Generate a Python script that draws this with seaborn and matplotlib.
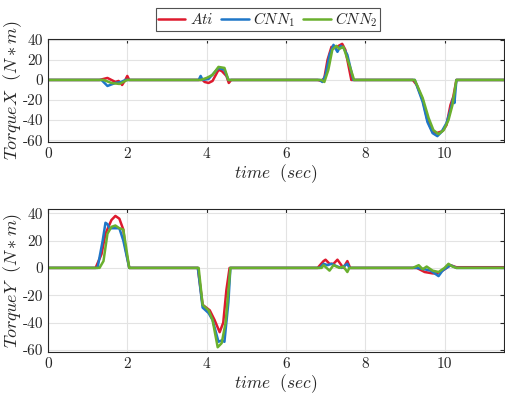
import numpy as np
import pandas as pd
import seaborn as sns
import matplotlib.pyplot as plt
from matplotlib.ticker import FuncFormatter
from matplotlib.lines import Line2D

# ---- data (time in sec, torque in N*m) ----
tx_ati_t = [0, 1.3, 1.5, 1.7, 1.78, 1.87, 1.95, 2.0, 2.05, 3.9, 3.95, 4.05, 4.15, 4.3, 4.38, 4.5, 4.56, 4.62,
            6.8, 6.9, 6.97, 7.05, 7.15, 7.25, 7.33, 7.42, 7.5, 7.6, 7.65, 9.2, 9.3, 9.45, 9.57, 9.7, 9.8, 9.95, 10.05,
            10.15, 10.22, 10.3, 11.5]
tx_ati = [0, 0, 2, -2, -1, -5, 0, 4, 0, 0, -2, -3, -1, 10, 9, 4, -3, 0,
          0, -1, 2, 20, 33, 32, 34, 36, 30, 10, 0, 0, -5, -20, -40, -52, -53, -51, -45,
          -25, -17, 0, 0]
tx_cnn1_t = [0, 1.35, 1.5, 1.7, 1.85, 1.95, 3.8, 3.85, 3.9, 4.05, 4.3, 4.45, 4.55,
             6.85, 6.92, 7.0, 7.1, 7.2, 7.3, 7.38, 7.45, 7.55, 7.7, 9.25, 9.45, 9.57, 9.7, 9.82, 9.92, 10.05,
             10.15, 10.22, 10.25, 10.3, 11.5]
tx_cnn1 = [0, 0, -6, -3, -2, 0, 0, 4, 0, 1, 12, 10, 0,
           0, -2, 5, 25, 35, 28, 34, 32, 25, 0, 0, -22, -42, -53, -56, -52, -43,
           -30, -18, -23, 0, 0]
tx_cnn2_t = [0, 1.4, 1.6, 1.8, 1.9, 2.0, 3.85, 4.0, 4.15, 4.3, 4.45, 4.55,
             6.9, 6.97, 7.07, 7.17, 7.27, 7.35, 7.45, 7.6, 7.72, 9.25, 9.45, 9.6, 9.72, 9.85, 9.98, 10.1,
             10.2, 10.3, 11.5]
tx_cnn2 = [0, 0, -3, -4, -2, 0, 0, 2, 5, 13, 12, 0,
           0, -2, 10, 30, 34, 31, 33, 15, 0, 0, -18, -38, -50, -54, -50, -40,
           -25, 0, 0]

ty_ati_t = [0, 1.2, 1.35, 1.45, 1.6, 1.7, 1.8, 1.9, 1.95, 2.05, 3.78, 3.9, 4.08, 4.2, 4.33, 4.42, 4.5, 4.58,
            6.8, 6.95, 7.0, 7.1, 7.2, 7.3, 7.4, 7.45, 7.55, 7.62, 9.3, 9.5, 9.7, 9.8, 9.95, 10.15, 10.3, 11.5]
ty_ati = [0, 0, 10, 25, 35, 38, 36, 28, 15, 0, 0, -27, -31, -38, -47, -40, -16, 0,
          0, 5, 6, 3, 3, 6, 2, 0, 5, 0, 0, -3, -4, -4, -2, 2, 0.5, 0.5]
ty_cnn1_t = [0, 1.25, 1.38, 1.45, 1.5, 1.55, 1.8, 1.9, 2.05, 3.78, 3.9, 4.05, 4.15, 4.3, 4.38, 4.45, 4.55, 4.6,
             6.85, 6.95, 7.05, 7.15, 7.3, 7.4, 7.55, 7.6, 9.3, 9.5, 9.65, 9.85, 9.95, 10.15, 10.3, 11.5]
ty_cnn1 = [0, 0, 20, 33, 32, 29, 29, 20, 0, 0, -29, -33, -38, -54, -53, -54, -25, 0,
           0, 3, 2, 3, 1, 0, 3, 0, 0, -1, -2, -6, -2, 2, 0, 0]
ty_cnn2_t = [0, 1.3, 1.4, 1.5, 1.6, 1.7, 1.8, 1.9, 1.97, 2.05, 3.8, 3.9, 4.05, 4.15, 4.28, 4.38, 4.48, 4.6,
             6.9, 6.95, 7.1, 7.2, 7.35, 7.45, 7.55, 7.6, 9.2, 9.35, 9.45, 9.55, 9.7, 9.85, 10.0, 10.1, 10.2, 10.3, 11.5]
ty_cnn2 = [0, 0, 5, 25, 30, 31, 29, 28, 15, 0, 0, -27, -31, -38, -58, -55, -40, 0,
           0, 2, -2, 2, 0, 1, -3, 0, 0, 2, -1, 1, -2, -3, 0, 3, 1, 0, 0]

names = ['$Ati$', '$CNN_1$', '$CNN_2$']
colors = ['#DE1A2E', '#1F77C8', '#6AB02E']

sns.set_style('white')
plt.rcParams['mathtext.fontset'] = 'cm'
plt.rcParams['font.family'] = ['cmr10', 'DejaVu Serif']
plt.rcParams['axes.formatter.use_mathtext'] = True

fig = plt.figure(figsize=(5.05, 3.96), dpi=100)
ax1 = fig.add_axes([0.095, 0.641, 0.903, 0.261])
ax2 = fig.add_axes([0.095, 0.111, 0.903, 0.361])

top = [(tx_ati_t, tx_ati), (tx_cnn1_t, tx_cnn1), (tx_cnn2_t, tx_cnn2)]
bot = [(ty_ati_t, ty_ati), (ty_cnn1_t, ty_cnn1), (ty_cnn2_t, ty_cnn2)]

fmt = FuncFormatter(lambda v, p: '%g' % v)

for ax, series, ylab, ylim in [(ax1, top, r'$TorqueX\ \ (N \ast m)$', (-62, 41)),
                               (ax2, bot, r'$TorqueY\ \ (N \ast m)$', (-61.5, 43))]:
    for (t, v), c in zip(series, colors):
        sns.lineplot(x=t, y=v, color=c, lw=1.8, ax=ax, estimator=None, sort=False)
    ax.set_xlim(0, 11.5)
    ax.set_ylim(*ylim)
    ax.set_xticks([0, 2, 4, 6, 8, 10])
    ax.set_yticks([-60, -40, -20, 0, 20, 40])
    ax.xaxis.set_major_formatter(fmt)
    ax.yaxis.set_major_formatter(fmt)
    ax.grid(True, color='#E3E3E3', lw=0.8)
    ax.tick_params(direction='in', top=True, right=True, labelsize=11, length=3, colors='#262626')
    for s in ax.spines.values():
        s.set_color('#262626')
        s.set_linewidth(0.8)
    ax.set_xlabel(r'$time\ \ (sec)$', fontsize=12.5, labelpad=1)
    ax.set_ylabel(ylab, fontsize=13)
    ax.yaxis.set_label_coords(-0.052, 0.5)

handles = [Line2D([], [], color=c, lw=1.8) for c in colors]
leg = fig.legend(handles, names, loc='upper center', bbox_to_anchor=(0.53, 1.0), ncol=3,
                 fontsize=11, frameon=True, fancybox=False, handlelength=1.8,
                 handletextpad=0.3, columnspacing=0.5, borderpad=0.15)
leg.get_frame().set_edgecolor('#262626')
leg.get_frame().set_linewidth(0.8)

fig.savefig('out.png', dpi=100)
